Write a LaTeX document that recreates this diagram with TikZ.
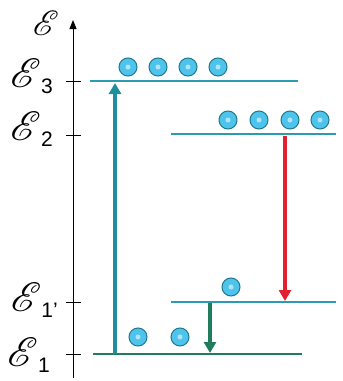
\documentclass[tikz,border=0pt]{standalone}
\usepackage{mathrsfs}
\usepackage{graphicx}
\usepackage{fontspec}
\newfontfamily\labsans{Liberation Sans}
\usetikzlibrary{arrows.meta}
\definecolor{levelteal}{HTML}{2A9BB0}
\definecolor{arrteal}{HTML}{1E8F9C}
\definecolor{arrred}{HTML}{E3202F}
\definecolor{arrgreen}{HTML}{1F7D5C}
\definecolor{elecfill}{HTML}{4EC4EC}
\definecolor{elecline}{HTML}{1F7A8C}
\tikzset{
  level/.style={line width=2.6pt, levelteal},
  groundlevel/.style={line width=2.6pt, arrgreen},
  trans/.style={line width=3.6pt, -{Triangle[length=11pt,width=12pt]}},
  electron/.style={circle, draw=elecline, line width=1pt, fill=elecfill, minimum size=18pt, inner sep=0pt},
  lab/.style={anchor=base east, inner sep=0pt},
  tick/.style={line width=1pt, black}
}
\newcommand{\scrE}[1]{\scalebox{#1}{$\mathscr{E}$}}
\newcommand{\biglab}[1]{\scrE{4.1}\raisebox{-6pt}{\fontsize{21}{24}\selectfont\labsans #1}}
\begin{document}
\begin{tikzpicture}[x=1pt,y=-1pt]
\useasboundingbox (0,0) rectangle (343,381);
% axis
\coordinate (axb) at (73,378);
\coordinate (axt) at (73,20);
\draw[line width=1pt, -{Triangle[length=9pt,width=7pt]}] (axb) -- (axt);
% ticks
\foreach \y/\n in {81/t3,135/t2,302/t1p,354/t1}{
  \coordinate (\n) at (73,\y);
  \draw[tick] (66,\y) -- (81,\y);
}
% labels
\node[inner sep=0pt, anchor=base] (lE) at (46,35) {\scrE{3.5}};
\node[lab] (l3) at (53,87) {\biglab{3}};
\node[lab] (l2) at (53,140) {\biglab{2}};
\node[lab] (l1p) at (58,311) {\biglab{1\textquoteright}};
\node[lab] (l1) at (50,366) {\biglab{1}};
% levels
\coordinate (e3a) at (90,81); \coordinate (e3b) at (298,81);
\coordinate (e2a) at (171,134); \coordinate (e2b) at (336,134);
\coordinate (e1pa) at (171,302); \coordinate (e1pb) at (336,302);
\coordinate (e1a) at (93,354); \coordinate (e1b) at (302,354);
\draw[level] (e3a) -- (e3b);
\draw[level] (e2a) -- (e2b);
\draw[level] (e1pa) -- (e1pb);
\draw[groundlevel] (e1a) -- (e1b);
% electrons
\foreach \x [count=\i] in {128,158,188,218}{
  \node[electron] (a\i) at (\x,67) {};
  \fill[white!55!elecfill] (a\i) circle (2.5pt);
}
\foreach \x [count=\i] in {228,259,290,320}{
  \node[electron] (b\i) at (\x,120) {};
  \fill[white!55!elecfill] (b\i) circle (2.5pt);
}
\node[electron] (c1) at (231,287) {};
\fill[white!55!elecfill] (c1) circle (2.5pt);
\foreach \x [count=\i] in {138,180}{
  \node[electron] (d\i) at (\x,337) {};
  \fill[white!55!elecfill] (d\i) circle (2.5pt);
}
% transitions
\coordinate (up0) at (115,354); \coordinate (up1) at (115,83);
\coordinate (rd0) at (285,136); \coordinate (rd1) at (285,301);
\coordinate (gd0) at (210,303); \coordinate (gd1) at (210,353);
\draw[trans, arrteal] (up0) -- (up1);
\draw[trans, arrred] (rd0) -- (rd1);
\draw[trans, arrgreen] (gd0) -- (gd1);
\end{tikzpicture}
\end{document}
